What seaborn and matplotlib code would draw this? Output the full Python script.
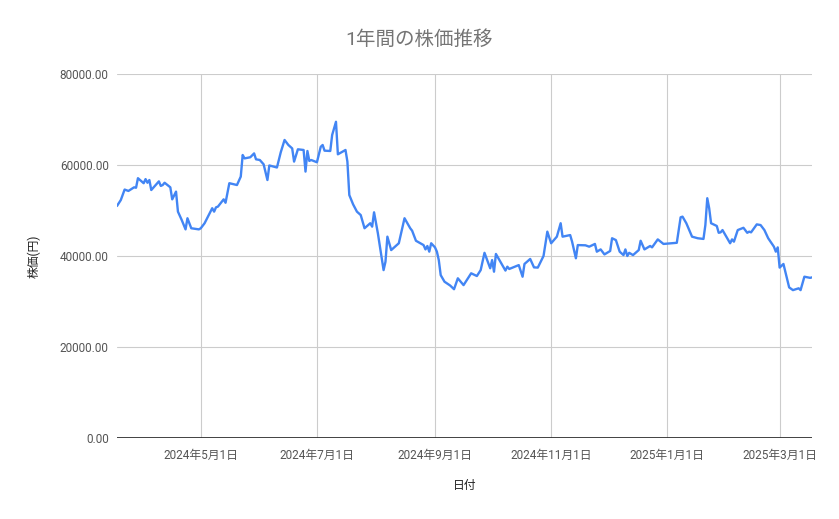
import pandas as pd
import numpy as np
import matplotlib
matplotlib.use("Agg")
import matplotlib.pyplot as plt
import matplotlib.dates as mdates
from matplotlib.ticker import FuncFormatter
import seaborn as sns

# 株価データ
dates = [
    "2024-03-18", "2024-03-20", "2024-03-22", "2024-03-24", "2024-03-27", "2024-03-28", "2024-03-29",
    "2024-04-01", "2024-04-02", "2024-04-03", "2024-04-04", "2024-04-05", "2024-04-09", "2024-04-10",
    "2024-04-11", "2024-04-12", "2024-04-15", "2024-04-16", "2024-04-18", "2024-04-19", "2024-04-21",
    "2024-04-23", "2024-04-24", "2024-04-26", "2024-04-30",
    "2024-05-01", "2024-05-03", "2024-05-07", "2024-05-08", "2024-05-09", "2024-05-10", "2024-05-13",
    "2024-05-14", "2024-05-16", "2024-05-20", "2024-05-22", "2024-05-23", "2024-05-24", "2024-05-27",
    "2024-05-29", "2024-05-30",
    "2024-06-01", "2024-06-03", "2024-06-05", "2024-06-06", "2024-06-10", "2024-06-12", "2024-06-14",
    "2024-06-16", "2024-06-18", "2024-06-19", "2024-06-21", "2024-06-24", "2024-06-25", "2024-06-26",
    "2024-06-27", "2024-06-28",
    "2024-07-01", "2024-07-03", "2024-07-04", "2024-07-05", "2024-07-08", "2024-07-09", "2024-07-11",
    "2024-07-12", "2024-07-16", "2024-07-17", "2024-07-18", "2024-07-20", "2024-07-22", "2024-07-24",
    "2024-07-26", "2024-07-29", "2024-07-30", "2024-07-31",
    "2024-08-02", "2024-08-05", "2024-08-06", "2024-08-07", "2024-08-09", "2024-08-13", "2024-08-14",
    "2024-08-16", "2024-08-19", "2024-08-20", "2024-08-22", "2024-08-26", "2024-08-27", "2024-08-28",
    "2024-08-29", "2024-08-30",
    "2024-09-01", "2024-09-02", "2024-09-03", "2024-09-04", "2024-09-06", "2024-09-09", "2024-09-11",
    "2024-09-13", "2024-09-16", "2024-09-20", "2024-09-23", "2024-09-25", "2024-09-27", "2024-09-30",
    "2024-10-01", "2024-10-02", "2024-10-03", "2024-10-08", "2024-10-09", "2024-10-10", "2024-10-15",
    "2024-10-17", "2024-10-18", "2024-10-21", "2024-10-23", "2024-10-25", "2024-10-28", "2024-10-30",
    "2024-11-01", "2024-11-04", "2024-11-06", "2024-11-07", "2024-11-11", "2024-11-12", "2024-11-14",
    "2024-11-15", "2024-11-19", "2024-11-21", "2024-11-24", "2024-11-25", "2024-11-27", "2024-11-29",
    "2024-12-02", "2024-12-03", "2024-12-05", "2024-12-07", "2024-12-09", "2024-12-10", "2024-12-11",
    "2024-12-12", "2024-12-14", "2024-12-17", "2024-12-18", "2024-12-20", "2024-12-23", "2024-12-24",
    "2024-12-27", "2024-12-30",
    "2025-01-06", "2025-01-08", "2025-01-09", "2025-01-11", "2025-01-14", "2025-01-17", "2025-01-20",
    "2025-01-21", "2025-01-22", "2025-01-23", "2025-01-24", "2025-01-27", "2025-01-28", "2025-01-29",
    "2025-01-30",
    "2025-02-01", "2025-02-03", "2025-02-04", "2025-02-05", "2025-02-07", "2025-02-10", "2025-02-12",
    "2025-02-13", "2025-02-14", "2025-02-17", "2025-02-19", "2025-02-21", "2025-02-23", "2025-02-26",
    "2025-02-27", "2025-02-28",
    "2025-03-01", "2025-03-03", "2025-03-06", "2025-03-08", "2025-03-11", "2025-03-12", "2025-03-14",
    "2025-03-17", "2025-03-18",
]
prices = [
    51000, 52300, 54600, 54300, 55100, 55000, 57100,
    56000, 56900, 56100, 56700, 54500, 56400, 55400,
    55600, 56100, 55100, 52450, 54150, 49750, 47900,
    45850, 48300, 46100, 45850,
    46100, 47200, 50500, 49750, 50700, 50850, 52450,
    51700, 56000, 55600, 57450, 62200, 61450, 61700,
    62550, 61250,
    61100, 60150, 56700, 59900, 59450, 62800, 65500,
    64400, 63650, 60750, 63450, 63300, 58550, 63080,
    60900, 61100,
    60600, 64000, 64400, 63150, 63080, 66600, 69500,
    62350, 63300, 60750, 53400, 51350, 49750, 49000,
    46100, 47200, 46450, 49600,
    45000, 36900, 38750, 44250, 41300, 42800, 44600,
    48300, 46100, 45550, 43350, 42400, 41450, 42200,
    40950, 42800,
    41900, 40950, 39100, 35800, 34350, 33500, 32700,
    35100, 33600, 36200, 35600, 36900, 40700, 37300,
    39100, 36550, 40450, 36800, 37650, 37150, 38000,
    35450, 38250, 39350, 37500, 37450, 40000, 45350,
    42800, 44250, 47200, 44250, 44600, 43150, 39500,
    42400, 42350, 42050, 42650, 40950, 41450, 40350,
    41100, 43900, 43500, 40950, 40200, 41450, 40000,
    40700, 40200, 41300, 43350, 41450, 42200, 41900,
    43650, 42650,
    42900, 48500, 48650, 47200, 44250, 43900, 43750,
    46800, 52700, 50500, 47200, 46600, 45100, 45200,
    45700,
    44250, 42800, 43650, 43150, 45700, 46200, 45100,
    45350, 45200, 46950, 46800, 45700, 43900, 42050,
    40950, 41900,
    37450, 38250, 33100, 32500, 32900, 32500, 35450,
    35200, 35300,
]

title = "1年間の株価推移"
x_label = "日付"
y_label = "株価(円)"
y_ticks = [0, 20000, 40000, 60000, 80000]

df = pd.DataFrame({"日付": pd.to_datetime(dates), "株価": prices})

sns.set_style("white")
plt.rcParams["font.family"] = ["Roboto", "Noto Sans CJK JP", "DejaVu Sans"]

fig = plt.figure(figsize=(8.39, 5.19), dpi=100)
ax = fig.add_axes([117 / 839, 1 - 438 / 519, (812 - 117) / 839, (438 - 74) / 519])

sns.lineplot(data=df, x="日付", y="株価", ax=ax, estimator=None,
             color="#4285F4", linewidth=1.7, zorder=3)

ax.set_xlim(df["日付"].min(), df["日付"].max())
ax.set_ylim(0, 80000)
ax.set_yticks(y_ticks)
ax.yaxis.set_major_formatter(FuncFormatter(lambda v, p: f"{v:.2f}"))
ax.xaxis.set_major_locator(mdates.MonthLocator(bymonth=[1, 3, 5, 7, 9, 11]))


def jp_date(v, p):
    d = mdates.num2date(v)
    return f"{d.year}年{d.month}月{d.day}日"


ax.xaxis.set_major_formatter(FuncFormatter(jp_date))

ax.grid(True, color="#cccccc", linewidth=0.8)
ax.axhline(0, color="#333333", linewidth=1.3, zorder=2)
for s in ax.spines.values():
    s.set_visible(False)
ax.tick_params(axis="both", length=0, labelsize=8.5, labelcolor="#555555")
ax.tick_params(axis="x", pad=8)
ax.tick_params(axis="y", pad=6)

ax.set_xlabel(x_label, fontsize=8.5, color="#222222", labelpad=12)
ax.set_ylabel(y_label, fontsize=8.5, color="#222222", labelpad=14)
fig.text(0.5, 1 - 40 / 519, title, ha="center", va="center", fontsize=14, color="#757575")

fig.savefig("out.png", dpi=100)
